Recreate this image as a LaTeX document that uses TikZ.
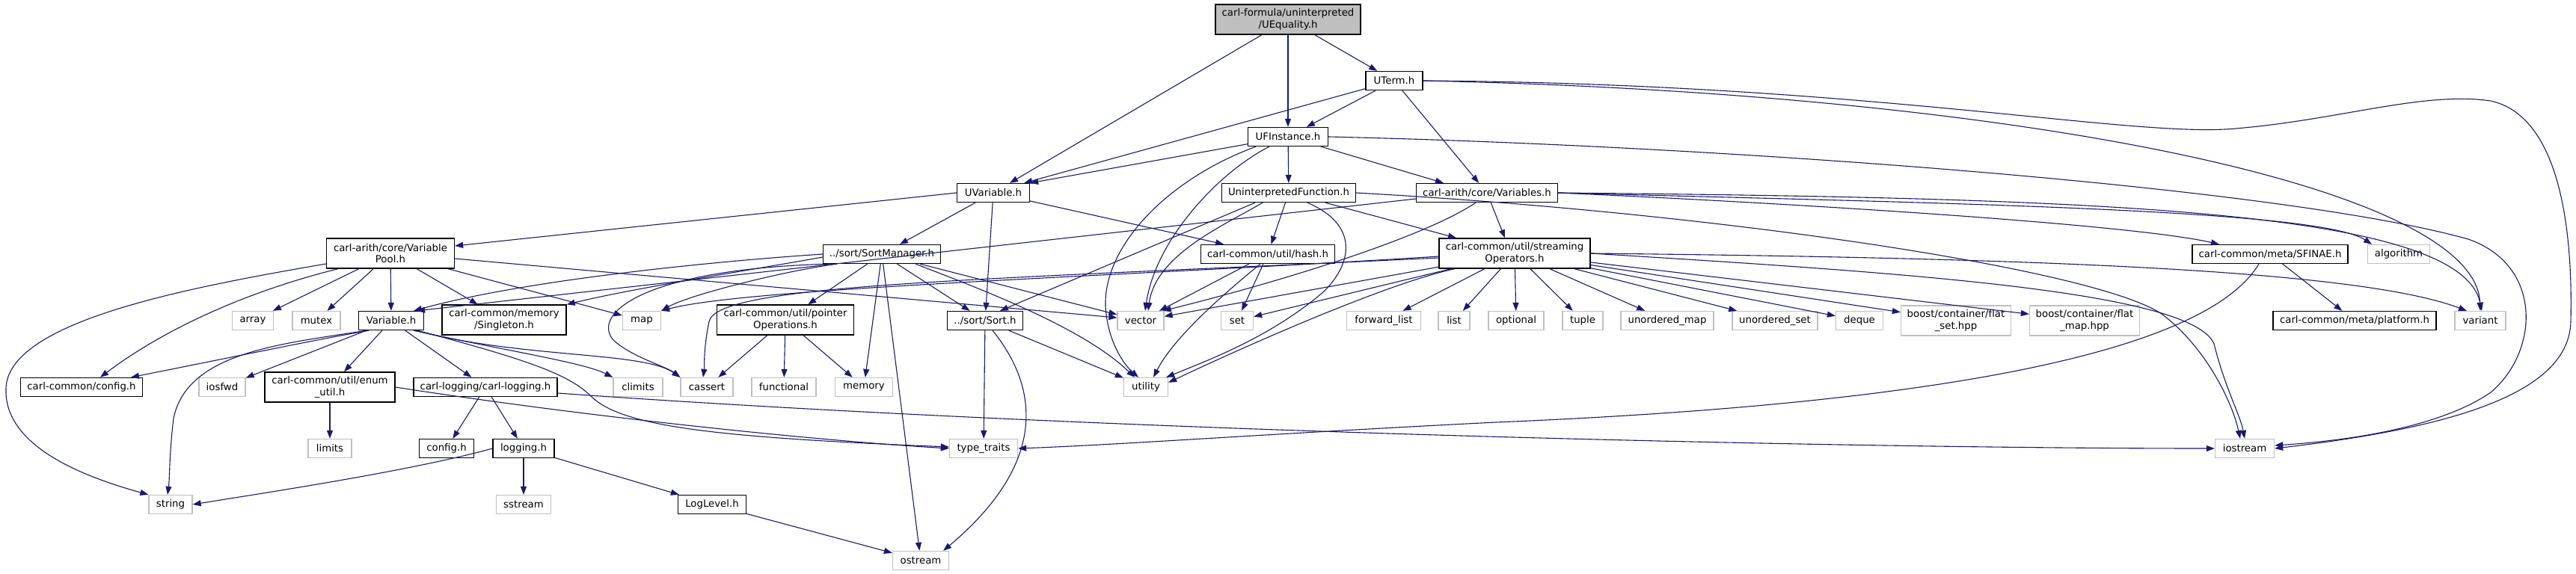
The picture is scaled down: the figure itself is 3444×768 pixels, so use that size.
\documentclass[tikz,border=0pt]{standalone}
\usepackage{fontspec}
\setmainfont{DejaVu Sans}
\usetikzlibrary{arrows.meta}
\definecolor{edgec}{HTML}{191970}
\definecolor{gborder}{HTML}{BFBFBF}
\definecolor{rootfill}{HTML}{BFBFBF}
\begin{document}
\begin{tikzpicture}[x=1pt,y=-1pt,
  every node/.style={font=\fontsize{13.3}{15.5}\selectfont, align=center, inner sep=0pt},
  hbox/.style={draw=black, line width=1.3pt, fill=white, minimum height=25pt},
  sbox/.style={draw=gborder, line width=1.3pt, fill=white, minimum height=25pt},
  tall/.style={minimum height=40pt},
  e/.style={draw=edgec, line width=1.1pt, -{Triangle[length=11pt,width=8pt]}}]
\fill[white] (0,0) rectangle (3444,768);
\useasboundingbox (0,0) rectangle (3444,768);

% nodes
\node[hbox,tall,fill=rootfill,minimum width=194pt] (ueq) at (1722,26) {carl-formula/uninterpreted\\/UEquality.h};
\node[hbox,minimum width=76pt] (uterm) at (1864,108) {UTerm.h};
\node[hbox,minimum width=107pt] (ufi) at (1722,183) {UFInstance.h};
\node[hbox,minimum width=97pt] (uvar) at (1328,258) {UVariable.h};
\node[hbox,minimum width=179pt] (ufun) at (1723,258) {UninterpretedFunction.h};
\node[hbox,minimum width=189pt] (vars) at (1988,258) {carl-arith/core/Variables.h};
\node[hbox,tall,minimum width=171pt] (vpool) at (522,339) {carl-arith/core/Variable\\Pool.h};
\node[hbox,minimum width=157pt] (sortm) at (1179,340) {../sort/SortManager.h};
\node[hbox,minimum width=179pt] (hash) at (1695,340) {carl-common/util/hash.h};
\node[hbox,tall,minimum width=202pt] (stream) at (2025,339) {carl-common/util/streaming\\Operators.h};
\node[hbox,minimum width=208pt] (sfinae) at (3035,340) {carl-common/meta/SFINAE.h};
\node[sbox,minimum width=83pt] (algorithm) at (3207,340) {algorithm};
\node[sbox,minimum width=55pt] (array) at (338,429) {array};
\node[sbox,minimum width=64pt] (mutex) at (423,429) {mutex};
\node[hbox,minimum width=87pt] (variable) at (523,429) {Variable.h};
\node[hbox,tall,minimum width=166pt] (singleton) at (674,428) {carl-common/memory\\/Singleton.h};
\node[sbox,minimum width=51pt] (map) at (858,429) {map};
\node[hbox,tall,minimum width=183pt] (ptrops) at (1050,428) {carl-common/util/pointer\\Operations.h};
\node[hbox,minimum width=101pt] (sort) at (1317,429) {../sort/Sort.h};
\node[sbox,minimum width=62pt] (vector) at (1525,429) {vector};
\node[sbox,minimum width=43pt] (set) at (1654,429) {set};
\node[sbox,minimum width=99pt] (fwdlist) at (1850,429) {forward\_list};
\node[sbox,minimum width=42pt] (list) at (1944,429) {list};
\node[sbox,minimum width=74pt] (optional) at (2027,429) {optional};
\node[sbox,minimum width=54pt] (tuple) at (2116,429) {tuple};
\node[sbox,minimum width=124pt] (umap) at (2229,429) {unordered\_map};
\node[sbox,minimum width=114pt] (uset) at (2373,429) {unordered\_set};
\node[sbox,minimum width=63pt] (deque) at (2486,429) {deque};
\node[sbox,tall,minimum width=147pt] (flatset) at (2615,429) {boost/container/flat\\\_set.hpp};
\node[sbox,tall,minimum width=147pt] (flatmap) at (2787,429) {boost/container/flat\\\_map.hpp};
\node[hbox,minimum width=218pt] (platform) at (3148,429) {carl-common/meta/platform.h};
\node[sbox,minimum width=68pt] (variant) at (3316,429) {variant};
\node[hbox,minimum width=163pt] (config) at (109,518) {carl-common/config.h};
\node[sbox,minimum width=62pt] (iosfwd) at (297,518) {iosfwd};
\node[hbox,tall,minimum width=174pt] (enumutil) at (441,518) {carl-common/util/enum\\\_util.h};
\node[hbox,minimum width=192pt] (logging) at (649,518) {carl-logging/carl-logging.h};
\node[sbox,minimum width=66pt] (climits) at (853,518) {climits};
\node[sbox,minimum width=70pt] (cassert) at (945,518) {cassert};
\node[sbox,minimum width=86pt] (functional) at (1048,518) {functional};
\node[sbox,minimum width=77pt] (memory) at (1155,518) {memory};
\node[sbox,minimum width=59pt] (utility) at (1532,518) {utility};
\node[sbox,minimum width=58pt] (limits) at (441,600) {limits};
\node[hbox,minimum width=73pt] (configh) at (597,600) {config.h};
\node[hbox,minimum width=82pt] (loggingh) at (700,600) {logging.h};
\node[sbox,minimum width=91pt] (typetraits) at (1315,600) {type\_traits};
\node[sbox,minimum width=79pt] (iostream) at (3001,600) {iostream};
\node[sbox,minimum width=58pt] (string) at (228,675) {string};
\node[sbox,minimum width=73pt] (sstream) at (700,675) {sstream};
\node[hbox,minimum width=91pt] (loglevel) at (952,675) {LogLevel.h};
\node[sbox,minimum width=75pt] (ostream) at (1231,750) {ostream};

% edges
\draw[e] (ueq) -- ([xshift=22pt]uvar.north);
\draw[e] (ueq) -- (ufi);
\draw[e] (ueq) -- (uterm);

\draw[e] (uterm) -- (ufi);
\draw[e] (uterm) -- ([xshift=-8pt]uvar.north east);
\draw[e] (uterm) -- (vars);
\draw[e] (uterm.east) .. controls (2700,125) and (3310,250) .. (variant.north);
\draw[e] (uterm.east) .. controls (2500,112) and (2850,185) .. (2989,172) .. controls (3130,160) and (3240,122) .. (3330,135) .. controls (3420,155) and (3440,300) .. (3437,430) .. controls (3435,520) and (3300,570) .. (iostream.east);

\draw[e] (ufi) -- (uvar.north east);
\draw[e] (ufi) -- (ufun);
\draw[e] (ufi) -- ([xshift=-58pt]vars.north);
\draw[e] ([xshift=-25pt]ufi.south) .. controls (1630,230) and (1545,320) .. ([xshift=6pt]vector.north);
\draw[e] ([xshift=-43pt]ufi.south) .. controls (1560,240) and (1475,330) .. (1478,410) .. controls (1481,460) and (1505,490) .. ([xshift=-10pt]utility.north);
\draw[e] (ufi.east) .. controls (2300,195) and (3050,250) .. (3300,320) .. controls (3400,355) and (3395,470) .. (3330,525) .. controls (3250,580) and (3100,592) .. ([yshift=4pt]iostream.east);

\draw[e] (uvar.west) -- ([yshift=10pt]vpool.east);
\draw[e] (uvar) -- (sortm);
\draw[e] (uvar) -- (sort);
\draw[e] (uvar) -- (hash);

\draw[e] (ufun) -- (hash);
\draw[e] ([xshift=-35pt]ufun.south) .. controls (1640,300) and (1545,340) .. ([xshift=10pt]vector.north);
\draw[e] ([xshift=-45pt]ufun.south) -- ([xshift=20pt]sort.north);
\draw[e] ([xshift=25pt]ufun.south) .. controls (1815,300) and (1810,350) .. (1770,390) .. controls (1700,450) and (1620,480) .. ([xshift=-3pt]utility.north east);
\draw[e] (ufun) -- ([xshift=-78pt]stream.north);
\draw[e] (ufun.east) .. controls (2300,285) and (2800,360) .. (2890,420) .. controls (2950,465) and (2985,540) .. ([xshift=-6pt]iostream.north);

\draw[e] ([yshift=-8pt]vars.west) -- ([xshift=-10pt]variable.north east);
\draw[e] (vars) -- ([xshift=-13pt]stream.north);
\draw[e] ([xshift=-15pt]vars.south) .. controls (1900,320) and (1700,380) .. ([xshift=-2pt]vector.north east);
\draw[e] (vars.east) .. controls (2400,272) and (2850,300) .. ([xshift=-68pt]sfinae.north);
\draw[e] (vars.east) .. controls (2600,272) and (3100,280) .. ([xshift=-36pt]algorithm.north);
\draw[e] (vars.east) .. controls (2800,265) and (3290,280) .. ([xshift=2pt]variant.north);

\draw[e] ([yshift=-14pt]vpool.west) .. controls (250,385) and (10,430) .. (8,520) .. controls (5,600) and (120,640) .. (string.north west);
\draw[e] ([xshift=-70pt]vpool.south) .. controls (330,390) and (220,440) .. ([xshift=25pt]config.north);
\draw[e] (vpool) -- (array);
\draw[e] (vpool) -- (mutex);
\draw[e] (vpool) -- (variable);
\draw[e] (vpool) -- (singleton);
\draw[e] (vpool) -- (map);
\draw[e] ([yshift=-7pt]vpool.east) -- ([yshift=4pt]vector.west);

\draw[e] (sortm.west) .. controls (950,350) and (700,375) .. ([xshift=-14pt]variable.north east);
\draw[e] ([yshift=-4pt]sortm.west) .. controls (1000,362) and (850,385) .. (singleton.north east);
\draw[e] ([xshift=-60pt]sortm.south) .. controls (1050,362) and (920,395) .. (map.north east);
\draw[e] ([xshift=-70pt]sortm.south) .. controls (860,360) and (790,420) .. (820,455) .. controls (845,478) and (890,490) .. (cassert.north west);
\draw[e] (sortm) -- (ptrops);
\draw[e] (sortm) -- (memory);
\draw[e] (sortm) -- (ostream);
\draw[e] (sortm) -- (sort);
\draw[e] (sortm) -- (vector);
\draw[e] ([xshift=45pt]sortm.south) .. controls (1320,390) and (1450,440) .. ([xshift=-15pt]utility.north);

\draw[e] (hash) -- (vector);
\draw[e] ([xshift=-10pt]hash.south) .. controls (1640,390) and (1570,450) .. ([xshift=10pt]utility.north);
\draw[e] (hash) -- (set);

\draw[e] (stream) -- (vector);
\draw[e] (stream) -- (set);
\draw[e] (stream) -- (fwdlist);
\draw[e] (stream) -- (list);
\draw[e] (stream) -- (optional);
\draw[e] (stream) -- (tuple);
\draw[e] (stream) -- (umap);
\draw[e] (stream) -- (uset);
\draw[e] (stream) -- (deque);
\draw[e] (stream) -- (flatset);
\draw[e] (stream) -- (flatmap);
\draw[e] (stream.east) .. controls (2700,345) and (3150,360) .. ([xshift=-18pt]variant.north);
\draw[e] ([xshift=-80pt]stream.south) .. controls (1850,380) and (1650,470) .. ([yshift=-7pt]utility.north east);
\draw[e] ([yshift=-4pt]stream.west) .. controls (1500,370) and (1000,385) .. (map.north east);
\draw[e] ([yshift=-6pt]stream.west) .. controls (1300,375) and (960,380) .. (948,430) .. controls (940,470) and (942,490) .. ([xshift=-5pt]cassert.north);
\draw[e] (stream.east) .. controls (2550,365) and (2930,390) .. (2960,460) .. controls (2975,520) and (2995,555) .. (iostream.north);

\draw[e] (ptrops) -- (cassert);
\draw[e] (ptrops) -- (functional);
\draw[e] (ptrops) -- (memory);

\draw[e] (sort) -- (typetraits);
\draw[e] ([xshift=10pt]sort.south) .. controls (1390,520) and (1400,620) .. ([xshift=-8pt]ostream.north east);
\draw[e] (sort) -- (utility);

\draw[e] ([xshift=-30pt]variable.south) .. controls (420,455) and (300,480) .. ([xshift=66pt]config.north);
\draw[e] (variable) -- (iosfwd);
\draw[e] (variable) -- (enumutil);
\draw[e] (variable) -- (logging);
\draw[e] ([xshift=30pt]variable.south) .. controls (680,470) and (780,485) .. (climits.north west);
\draw[e] ([xshift=32pt]variable.south) .. controls (700,480) and (860,470) .. (cassert.north west);
\draw[e] ([xshift=-33pt]variable.south) .. controls (380,460) and (250,470) .. (232,560) .. controls (226,610) and (227,640) .. ([xshift=-4pt]string.north);
\draw[e] ([xshift=35pt]variable.south) .. controls (700,480) and (760,500) .. (790,530) .. controls (830,570) and (950,585) .. ([yshift=2pt]typetraits.west);

\draw[e] (enumutil) -- (limits);
\draw[e] (enumutil.east) .. controls (800,560) and (1100,590) .. (typetraits.west);

\draw[e] (logging) -- (configh);
\draw[e] (logging) -- (loggingh);
\draw[e] ([yshift=-8pt]logging.east) .. controls (1500,580) and (2500,600) .. (iostream.west);

\draw[e] (loggingh.west) .. controls (550,630) and (350,660) .. (string.east);
\draw[e] (loggingh) -- (sstream);
\draw[e] (loggingh) -- (loglevel);
\draw[e] (loglevel) -- (ostream);

\draw[e] (sfinae) -- (platform);
\draw[e] ([xshift=-15pt]sfinae.south) .. controls (2950,470) and (2600,540) .. (2000,565) .. controls (1700,580) and (1500,595) .. (typetraits.east);
\end{tikzpicture}
\end{document}
